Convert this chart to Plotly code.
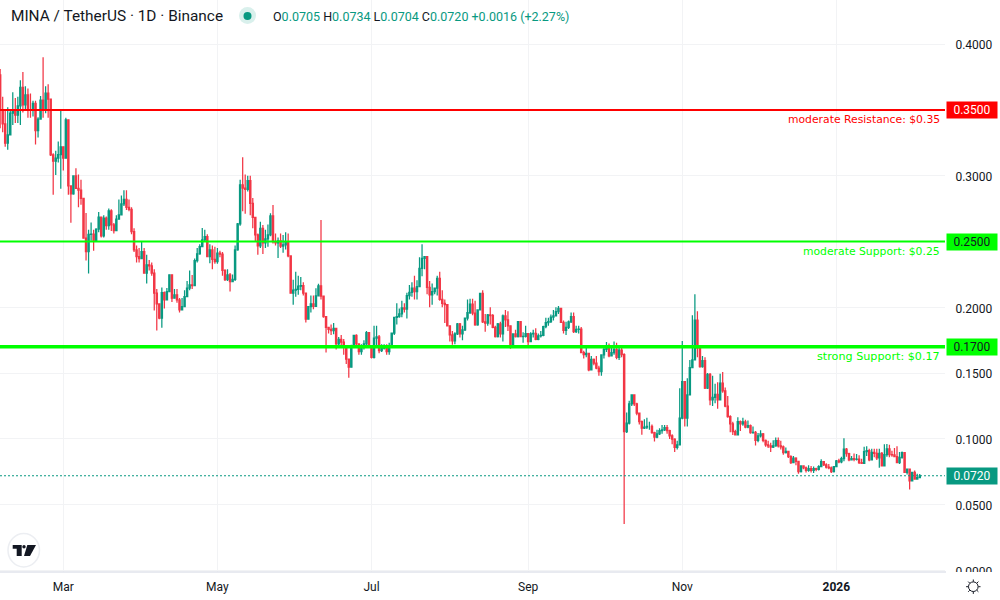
import math
import pandas as pd
import plotly.graph_objects as go

FIRST_OPEN = 0.3766
START_DATE = "2025-02-04"

closes = [
 .350,.3394,.3247,.331,.3475,.350,.346,.353,.3672,.3538,
 .3614,.350,.350,.355,.3343,.343,.3575,.350,.3627,.3581,
 .3158,.311,.3133,.316,.322,.3133,.3425,.2922,.2861,.2998,
 .2904,.289,.2828,.2525,.2424,.2555,.2557,.2507,.2595,.2685,
 .2543,.2677,.262,.2732,.2626,.2583,.267,.2702,.2785,.282,
 .276,.2745,.2575,.2436,.2385,.2370,.2423,.2259,.2323,.2315,
 .226,.2107,.2026,.1918,.2112,.2057,.212,.2247,.2069,.2095,
 .2057,.1981,.2006,.2082,.2145,.217,.2165,.2355,.2406,.2462,
 .2512,.2538,.2386,.2436,.2365,.2347,.2411,.2405,.228,.221,
 .2247,.2195,.2213,.2436,.2634,.293,.2905,.2897,.2962,.279,
 .2684,.255,.2467,.26,.249,.252,.255,.2694,.25,.249,
 .2505,.2465,.2475,.2495,.239,.2107,.213,.2137,.216,.2165,
 .2107,.191,.2006,.2027,.2007,.2087,.2163,.2085,.193,.1848,
 .1833,.1823,.184,.1722,.1757,.1735,.1695,.1606,.1545,.1707,
 .1787,.1722,.1664,.170,.1722,.1807,.1697,.162,.1765,.1775,
 .1671,.169,.170,.1664,.1706,.1803,.1924,.193,.195,.1995,
 .1987,.2089,.2114,.2145,.212,.2157,.2296,.2372,.2385,.2152,
 .2094,.212,.2145,.222,.206,.203,.202,.1859,.179,.1745,
 .1798,.1874,.1798,.1828,.1917,.196,.2025,.1955,.1866,.198,
 .2106,.189,.188,.1942,.1936,.1848,.1778,.1874,.1798,.1934,
 .1904,.1859,.1703,.1798,.1778,.1891,.1778,.178,.180,.1739,
 .1798,.1802,.1757,.1782,.1787,.1853,.1884,.1892,.1925,.1934,
 .1968,.1992,.1885,.1825,.1848,.189,.193,.1816,.1832,.1835,
 .1656,.164,.165,.1525,.1605,.1575,.1537,.1512,.1638,
 .168,.1693,.163,.1655,.168,.162,.1675,.164,.1055,.1119,
 .1266,.1334,.1266,.1195,.1132,.1081,.109,.1095,.1095,.1048,
 .1013,.1038,.1063,.1068,.1085,.1063,.1023,.0998,.0935,.0955,
 .1158,.1435,.1157,.1334,.1542,.160,.1903,.169,.1549,.1595,
 .1385,.149,.1296,.1316,.1339,.1296,.1423,.1365,.125,.117,
 .1114,.1056,.103,.1132,.1114,.113,.1089,.110,.1048,.105,
 .0988,.1023,.1038,.0988,.0955,.0947,.0937,.0947,.0987,.0947,
 .094,.0896,.0905,.0866,.082,.0853,.083,.0752,.0795,.078,
 .076,.0775,.076,.0775,.0768,.079,.0828,.0803,.0785,.078,
 .0752,.079,.0833,.0825,.085,.0922,.0888,.084,.085,.0845,
 .0847,.082,.0815,.0904,.091,.0841,.0897,.089,.0855,.089,
 .0795,.088,.0925,.088,.0878,.0866,.082,.086,.0896,.0745,
 .077,.0682,.0745,.0695,.0705,.0720,
]

highs = [
 .381,.360,.350,.352,.3495,.3635,.359,.360,.3725,.3788,
 .368,.3662,.3625,.357,.357,.3445,.3605,.390,.368,.3695,
 .3581,.317,.319,.326,.350,.322,.344,.3425,.2922,.300,
 .3057,.301,.297,.2828,.2717,.259,.2645,.259,.260,.2725,
 .269,.270,.269,.275,.2745,.264,.270,.282,.285,.289,
 .289,.282,.276,.260,.247,.245,.250,.245,.240,.236,
 .234,.229,.214,.203,.215,.212,.2147,.2247,.2247,.214,
 .214,.207,.207,.213,.220,.228,.2245,.237,.245,.248,
 .2603,.259,.2555,.248,.247,.246,.245,.243,.242,.229,
 .229,.226,.225,.247,.264,.297,.314,.301,.300,.300,
 .283,.2684,.256,.265,.2625,.259,.263,.2715,.2778,.256,
 .253,.256,.255,.257,.256,.2395,.221,.227,.224,.223,
 .219,.2107,.201,.209,.209,.2145,.2178,.2663,.209,.193,
 .185,.187,.188,.1805,.1775,.179,.176,.170,.161,.1715,
 .179,.1795,.172,.172,.175,.182,.181,.170,.186,.186,
 .179,.172,.172,.172,.173,.1806,.1925,.203,.199,.205,
 .203,.211,.217,.219,.224,.2205,.238,.248,.239,.2389,
 .220,.218,.215,.224,.227,.213,.206,.202,.186,.182,
 .181,.188,.188,.186,.192,.206,.2065,.2065,.205,.1985,
 .211,.213,.195,.195,.200,.195,.186,.188,.189,.1945,
 .198,.197,.186,.180,.183,.1895,.1895,.181,.186,.180,
 .181,.183,.184,.180,.182,.186,.192,.192,.1945,.198,
 .200,.201,.1992,.190,.189,.190,.196,.196,.186,.186,
 .185,.167,.169,.165,.163,.161,.163,.1555,.164,
 .170,.1737,.1725,.169,.174,.173,.169,.170,.165,.120,
 .129,.134,.134,.1275,.120,.114,.115,.116,.113,.111,
 .1055,.107,.108,.1105,.1105,.1105,.107,.1035,.1005,.0985,
 .1385,.1744,.1435,.146,.160,.194,.210,.197,.170,.163,
 .162,.150,.150,.148,.142,.143,.1495,.1508,.139,.1326,
 .118,.113,.107,.1165,.114,.116,.1145,.114,.111,.1095,
 .106,.1045,.1065,.1045,.0995,.0985,.097,.099,.101,.101,
 .0985,.095,.0935,.091,.0875,.087,.086,.0805,.080,.080,
 .079,.080,.0795,.079,.078,.080,.0845,.083,.0815,.081,
 .079,.0795,.084,.085,.0865,.1005,.093,.0895,.087,.089,
 .0885,.0875,.085,.094,.0945,.0925,.0925,.0925,.0925,.0925,
 .090,.096,.0962,.0955,.091,.093,.0945,.090,.0905,.0897,
 .0775,.0775,.075,.076,.0735,.0734,
]

lows = [
 .336,.333,.322,.3197,.331,.3385,.340,.340,.3385,.348,
 .350,.344,.344,.345,.3237,.329,.343,.344,.3475,.344,
 .315,.2855,.3005,.310,.290,.304,.313,.2855,.2643,.2855,
 .290,.276,.278,.252,.2355,.2256,.2505,.243,.2507,.257,
 .253,.253,.259,.259,.258,.256,.2583,.2665,.2702,.277,
 .274,.273,.2555,.242,.234,.234,.2370,.226,.218,.228,
 .224,.1975,.1824,.191,.1844,.199,.2057,.2115,.204,.2069,
 .2035,.196,.1975,.200,.208,.213,.214,.2165,.234,.240,
 .2458,.250,.238,.2335,.229,.233,.233,.238,.224,.220,
 .220,.212,.2195,.220,.243,.262,.273,.271,.288,.270,
 .260,.250,.240,.245,.2405,.245,.246,.254,.2485,.247,
 .2375,.245,.2415,.244,.238,.2105,.202,.208,.2095,.213,
 .209,.1885,.191,.196,.1985,.201,.2085,.206,.192,.1656,
 .180,.179,.1795,.168,.170,.171,.164,.157,.1465,.1545,
 .170,.171,.164,.164,.168,.169,.169,.161,.161,.170,
 .165,.166,.168,.164,.164,.170,.179,.187,.192,.1925,
 .196,.1915,.206,.208,.206,.206,.2157,.2235,.229,.210,
 .200,.202,.210,.209,.205,.200,.188,.1855,.174,.1715,
 .172,.179,.177,.175,.182,.190,.195,.194,.186,.186,
 .199,.188,.1815,.186,.187,.184,.177,.177,.177,.174,
 .185,.182,.1685,.171,.177,.177,.1775,.173,.177,.171,
 .1739,.177,.175,.175,.177,.178,.184,.186,.188,.190,
 .193,.195,.188,.180,.179,.1835,.188,.1805,.1805,.180,
 .165,.161,.162,.1515,.153,.156,.153,.148,.148,
 .161,.166,.162,.163,.164,.1605,.160,.162,.0353,.1045,
 .111,.125,.125,.118,.111,.1031,.1075,.1075,.107,.104,
 .098,.1005,.103,.104,.106,.104,.100,.096,.090,.092,
 .095,.115,.1095,.1095,.133,.154,.161,.162,.154,.154,
 .138,.138,.1255,.125,.127,.123,.1295,.135,.124,.116,
 .105,.103,.1025,.103,.106,.110,.108,.108,.104,.104,
 .095,.0975,.101,.0975,.094,.093,.090,.093,.094,.0935,
 .092,.088,.089,.0855,.081,.0815,.080,.0735,.0745,.077,
 .0745,.075,.0745,.074,.0755,.076,.0785,.0795,.0775,.077,
 .074,.0745,.0785,.0815,.0815,.083,.0865,.083,.0835,.083,
 .0835,.081,.081,.081,.087,.083,.084,.086,.084,.078,
 .079,.0795,.0865,.086,.0865,.086,.0815,.081,.085,.074,
 .073,.0615,.068,.069,.0695,.0704,
]

level_values = [0.35, 0.25, 0.17]
level_names = ["moderate Resistance: $0.35", "moderate Support: $0.25", "strong Support: $0.17"]
level_colors = ["#FF0000", "#00FF00", "#00FF00"]
level_widths = [2, 2, 3.5]
level_tag_text = ["#FFFFFF", "#131722", "#131722"]
level_font_sizes = [10.8, 10.8, 11.2]
last_price = 0.0720

price_ticks = [0.0, 0.05, 0.10, 0.15, 0.20, 0.30, 0.40]
time_ticks = ["2025-03-01", "2025-05-01", "2025-07-01", "2025-09-01", "2025-11-01", "2026-01-01"]
time_labels = ["Mar", "May", "Jul", "Sep", "Nov", "<b>2026</b>"]

UP = "#089981"
DOWN = "#F23645"
INK = "#131722"
GRID = "#F2F3F5"
W, H, PW, PB = 1000, 600, 945, 572


def px(x):
    return x / PW


def py(y):
    return (PB - y) / PB


opens = [FIRST_OPEN] + closes[:-1]
opens[-1] = 0.0705
highs = [max(h, o, c) for h, o, c in zip(highs, opens, closes)]
lows = [min(l, o, c) for l, o, c in zip(lows, opens, closes)]
dates = pd.date_range(START_DATE, periods=len(closes), freq="D")

fig = go.Figure(
    go.Candlestick(
        x=dates, open=opens, high=highs, low=lows, close=closes,
        increasing=dict(line=dict(color=UP, width=1.25), fillcolor=UP),
        decreasing=dict(line=dict(color=DOWN, width=1.25), fillcolor=DOWN),
        whiskerwidth=0, showlegend=False,
    )
)

shapes = []
annotations = []

for val, name, col, wid, tcol, fsize in zip(level_values, level_names, level_colors, level_widths,
                                            level_tag_text, level_font_sizes):
    shapes.append(dict(type="line", xref="paper", yref="y", x0=0, x1=1, y0=val, y1=val,
                       line=dict(color=col, width=wid), layer="above"))
    annotations.append(dict(xref="paper", yref="y", x=941.5 / PW, y=val, yshift=-10, text=name,
                            showarrow=False, xanchor="right", yanchor="middle",
                            font=dict(family="DejaVu Sans", size=fsize, color=col)))
    annotations.append(dict(xref="paper", yref="y", x=946 / PW, y=val, text=f"{val:.4f}",
                            showarrow=False, xanchor="left", yanchor="middle", width=50, height=16,
                            align="center", bgcolor=col, borderpad=0,
                            font=dict(family="Roboto", size=12, color=tcol)))

shapes.append(dict(type="line", xref="paper", yref="y", x0=0, x1=1, y0=last_price, y1=last_price,
                   line=dict(color=UP, width=1.2, dash="2px,2px"), layer="above"))
annotations.append(dict(xref="paper", yref="y", x=946 / PW, y=last_price, text=f"{last_price:.4f}",
                        showarrow=False, xanchor="left", yanchor="middle", width=50, height=16,
                        align="center", bgcolor=UP, borderpad=0,
                        font=dict(family="Roboto", size=12, color="#FFFFFF")))

# time-axis panel: border and mask clipping the lowest price label
shapes.append(dict(type="rect", xref="paper", yref="paper", x0=px(946), x1=px(1000), y0=py(579), y1=py(572),
                   fillcolor="#FFFFFF", line=dict(width=0), layer="above"))
shapes.append(dict(type="line", xref="paper", yref="paper", x0=0, x1=px(946), y0=0, y1=0,
                   line=dict(color="#E0E3EB", width=1.5), layer="above"))

# legend status dot
shapes.append(dict(type="circle", xref="paper", yref="paper", x0=px(239), x1=px(256), y0=py(24), y1=py(7),
                   fillcolor="#D9F0EC", line=dict(width=0), layer="above"))
shapes.append(dict(type="circle", xref="paper", yref="paper", x0=px(243.5), x1=px(251.5), y0=py(20), y1=py(12),
                   fillcolor=UP, line=dict(width=0), layer="above"))

# logo badge
shapes.append(dict(type="circle", xref="paper", yref="paper", x0=px(8), x1=px(39.5), y0=py(567), y1=py(533.5),
                   fillcolor="#FFFFFF", line=dict(color="#ECEEF2", width=1.5), layer="above"))


def poly(points):
    return "M" + " L".join(f"{px(x):.5f},{py(y):.5f}" for x, y in points) + " Z"


shapes.append(dict(type="path", xref="paper", yref="paper",
                   path=poly([(12.7, 545), (21.7, 545), (21.7, 556), (16.7, 556), (16.7, 548.7), (12.7, 548.7)]),
                   fillcolor=INK, line=dict(width=0), layer="above"))
shapes.append(dict(type="circle", xref="paper", yref="paper", x0=px(22.3), x1=px(25.7), y0=py(548.5), y1=py(545),
                   fillcolor=INK, line=dict(width=0), layer="above"))
shapes.append(dict(type="path", xref="paper", yref="paper",
                   path=poly([(27.3, 545), (36, 545), (30, 556), (24, 556)]),
                   fillcolor=INK, line=dict(width=0), layer="above"))

# theme-switch icon on the time axis
SUN_X, SUN_Y = 973.3, 586.7
shapes.append(dict(type="circle", xref="paper", yref="paper", x0=px(SUN_X - 4.8), x1=px(SUN_X + 4.8),
                   y0=py(SUN_Y + 4.8), y1=py(SUN_Y - 4.8), fillcolor="#FFFFFF",
                   line=dict(color=INK, width=1), layer="above"))
for k in range(8):
    ang = math.pi * k / 4
    shapes.append(dict(type="line", xref="paper", yref="paper",
                       x0=px(SUN_X + 5 * math.cos(ang)), x1=px(SUN_X + 7.2 * math.cos(ang)),
                       y0=py(SUN_Y + 5 * math.sin(ang)), y1=py(SUN_Y + 7.2 * math.sin(ang)),
                       line=dict(color=INK, width=1), layer="above"))

annotations.append(dict(xref="paper", yref="paper", x=px(8.5), y=py(16), text="MINA / TetherUS · 1D · Binance",
                        showarrow=False, xanchor="left", yanchor="middle",
                        font=dict(family="Roboto", size=15.4, color=INK)))


def ohlc(letter, value):
    return f'{letter}<span style="color:{UP}">{value}</span>'


annotations.append(dict(xref="paper", yref="paper", x=px(270.5), y=py(16),
                        text=" ".join([ohlc("O", "0.0705"), ohlc("H", "0.0734"), ohlc("L", "0.0704"),
                                       ohlc("C", "0.0720"),
                                       f'<span style="color:{UP}">+0.0016 (+2.27%)</span>']),
                        showarrow=False, xanchor="left", yanchor="middle",
                        font=dict(family="Roboto", size=12.5, color=INK)))

fig.update_layout(
    width=W, height=H, margin=dict(l=0, r=W - PW, t=0, b=H - PB),
    paper_bgcolor="#FFFFFF", plot_bgcolor="#FFFFFF", showlegend=False,
    font=dict(family="Roboto", size=12, color=INK),
    shapes=shapes, annotations=annotations,
    xaxis=dict(type="date", range=["2025-02-03 22:34", "2026-02-13 00:00"],
               rangeslider=dict(visible=False),
               tickmode="array", tickvals=time_ticks, ticktext=time_labels,
               showgrid=True, gridcolor=GRID, gridwidth=1, zeroline=False,
               showline=False, ticks="outside", ticklen=4, tickcolor="#FFFFFF",
               tickfont=dict(family="Roboto", size=12, color=INK)),
    yaxis=dict(side="right", range=[-0.00114, 0.43351], tickmode="array", tickvals=price_ticks,
               tickformat=".4f", showgrid=True, gridcolor=GRID, gridwidth=1, zeroline=False,
               showline=False, ticks="outside", ticklen=7, tickcolor="#FFFFFF", ticklabelshift=1,
               tickfont=dict(family="Roboto", size=12, color=INK)),
)

fig.write_html("out.html", config={"displayModeBar": False},
               post_script="document.body.style.margin='0';")
